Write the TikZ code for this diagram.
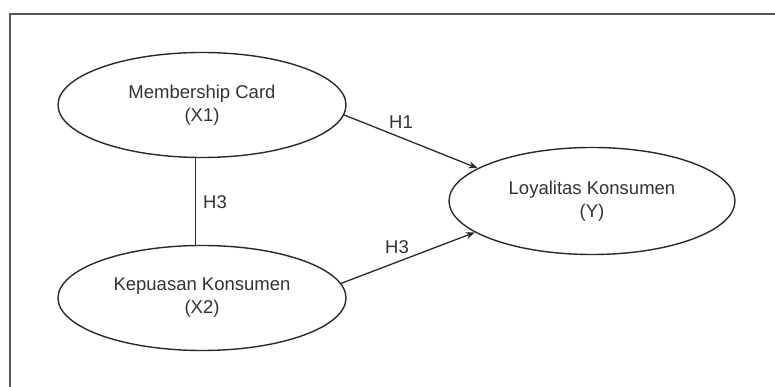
\documentclass[tikz,border=0pt]{standalone}
\usepackage{fontspec}
\setmainfont{Liberation Sans}
\usetikzlibrary{shapes.geometric,arrows.meta}
\definecolor{ink}{HTML}{2A2A2A}
\definecolor{txt}{HTML}{333333}
\begin{document}
\begin{tikzpicture}[x=1pt,y=1pt,
  var/.style={draw=ink,line width=1.4pt,ellipse,minimum width=288pt,minimum height=105pt,inner sep=0pt,
    align=center,text=txt,font=\fontsize{18.5}{23}\selectfont},
  conn/.style={draw=ink,line width=1.3pt},
  arr/.style={conn,-{Stealth[length=9pt,width=7pt]}},
  lbl/.style={text=txt,font=\fontsize{18.5}{23}\selectfont,inner sep=0pt}]
\useasboundingbox (0,0) rectangle (775,387);
\fill[white] (0,0) rectangle (775,387);
% frame
\draw[ink!80,line width=1.8pt] (10,-5) -- (10,373) -- (790,373);
% nodes
\node[var] (x1) at (202,282) {Membership Card\\(X1)};
\node[var] (x2) at (202,89) {Kepuasan Konsumen\\(X2)};
\node[var,minimum width=286pt,minimum height=107pt] (y) at (592,186) {Loyalitas Konsumen\\(Y)};
% connectors
\draw[conn] (x1.263) -- (x2.97);
\draw[arr] (x1.356) -- (y.164);
\draw[arr] (x2.6) -- (y.195);
% labels
\node[lbl] (h1) at (401,265) {H1};
\node[lbl] (h3a) at (215,185) {H3};
\node[lbl] (h3b) at (397,140) {H3};
\end{tikzpicture}
\end{document}
